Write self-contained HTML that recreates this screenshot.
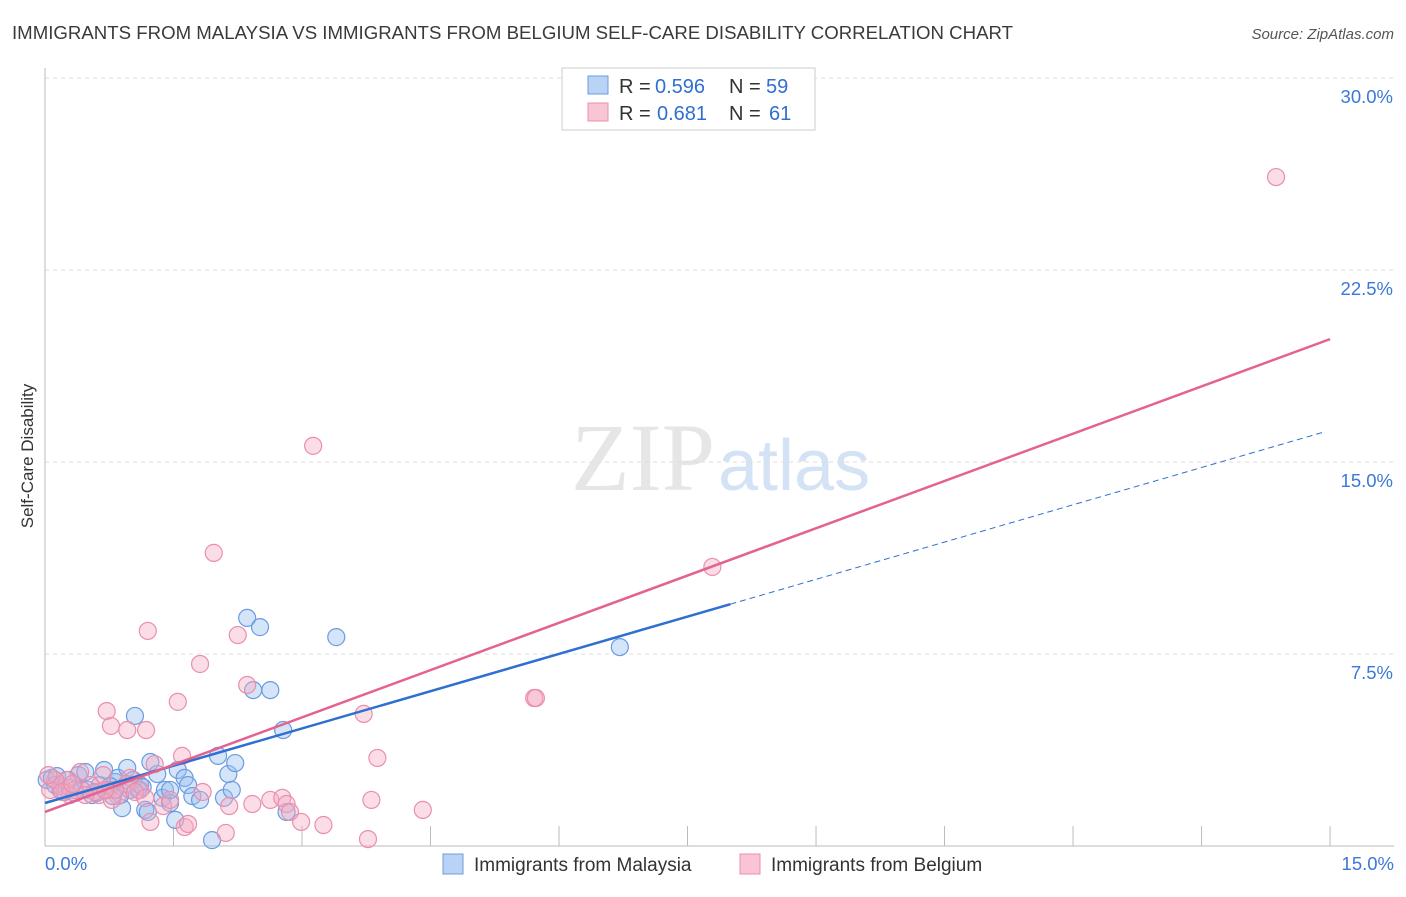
<!DOCTYPE html>
<html><head><meta charset="utf-8"><style>
body{margin:0;background:#fff;font-family:"Liberation Sans",sans-serif;}
</style></head><body>
<svg id="c" width="1406" height="892" xmlns="http://www.w3.org/2000/svg" style="font-family:'Liberation Sans',sans-serif">
<text x="12" y="39" font-size="18" fill="#3a3a3a" textLength="1001" lengthAdjust="spacingAndGlyphs">IMMIGRANTS FROM MALAYSIA VS IMMIGRANTS FROM BELGIUM SELF-CARE DISABILITY CORRELATION CHART</text>
<text x="1394" y="39" font-size="15" fill="#555" text-anchor="end" font-style="italic">Source: ZipAtlas.com</text>
<text x="715" y="490" font-size="96" fill="#e6e6e6" text-anchor="end" font-family="Liberation Serif">ZIP</text>
<text x="718" y="490" font-size="72" fill="#d4e2f5">atlas</text>
<text transform="translate(33,456) rotate(-90)" font-size="17" fill="#333" text-anchor="middle">Self-Care Disability</text>
<g id="grid"></g><g id="pts"></g><g id="lines"></g>
<g>
<rect x="562" y="68" width="253" height="62" fill="#fff" stroke="#ccc"/>
<rect x="588" y="76" width="20" height="18" fill="#b9d3f5" stroke="#6b9be0"/>
<rect x="588" y="103" width="20" height="18" fill="#f9c4d4" stroke="#ea8fab"/>
<text x="619" y="93" font-size="20" fill="#333">R =</text>
<text x="655" y="93" font-size="20" fill="#2f6fd0">0.596</text>
<text x="729" y="93" font-size="20" fill="#333">N =</text>
<text x="766" y="93" font-size="20" fill="#2f6fd0">59</text>
<text x="619" y="120" font-size="20" fill="#333">R =</text>
<text x="657" y="120" font-size="20" fill="#2f6fd0">0.681</text>
<text x="729" y="120" font-size="20" fill="#333">N =</text>
<text x="769" y="120" font-size="20" fill="#2f6fd0">61</text>
</g>
<g>
<rect x="443" y="854" width="20" height="20" fill="#b9d3f5" stroke="#6b9be0"/>
<text x="474" y="871" font-size="19" fill="#333">Immigrants from Malaysia</text>
<rect x="740" y="854" width="20" height="20" fill="#f9c4d4" stroke="#ea8fab"/>
<text x="771" y="871" font-size="19" fill="#333">Immigrants from Belgium</text>
</g>
</svg>
<script>
const blueX=[.02,.08,.12,.18,.23,.29,.39,.47,.50,.55,.64,.69,.74,.82,.85,.90,.96,.99,1.05,1.11,1.17,1.20,1.23,1.31,1.37,1.40,1.46,1.52,1.55,1.63,1.67,1.72,1.95,2.02,2.09,2.14,2.18,2.22,2.36,2.43,2.51,2.63,2.78,2.82,3.40,6.71,.14,.35,.60,.76,1.03,1.09,1.46,.88,.27,.43,.79,1.81,1.14];
const blueY=[2.58,2.66,2.38,2.19,2.11,2.27,2.77,2.89,2.19,1.99,2.38,2.97,2.19,2.50,2.66,1.48,3.05,2.19,5.08,2.38,1.41,1.33,3.28,2.81,1.88,2.19,1.68,1.02,2.97,2.66,2.38,1.95,0.23,3.52,1.88,2.81,2.19,3.24,8.91,6.09,8.55,6.09,4.53,1.33,8.16,7.77,2.73,2.07,2.07,2.34,2.58,2.19,2.19,1.99,2.58,2.19,1.95,1.80,2.30];
const pinkX=[14.37,3.13,1.97,7.79,1.20,2.25,1.81,2.36,5.71,5.73,1.55,.72,3.72,.77,.96,1.18,1.60,3.88,1.28,.41,.68,.99,1.11,.85,.53,.18,.29,.06,.25,.63,.78,.95,1.38,1.46,1.84,2.15,2.42,2.63,2.77,2.82,2.86,3.81,4.41,2.99,3.25,1.23,1.63,1.67,2.11,3.77,.12,.35,.58,.47,1.05,1.17,.20,.32,.82,.04,.70];
const pinkY=[26.13,15.63,11.45,10.90,8.40,8.24,7.11,6.29,5.78,5.78,5.63,5.27,5.16,4.69,4.53,4.53,3.52,3.44,3.20,2.89,2.77,2.66,2.19,1.95,2.38,2.34,1.99,2.19,2.58,1.99,1.80,2.42,1.56,1.80,2.11,1.56,1.64,1.80,1.88,1.64,1.33,1.80,1.41,0.94,0.82,0.94,0.74,0.86,0.51,0.27,2.58,2.19,2.11,1.99,2.11,1.88,2.11,2.42,2.19,2.77,2.19];
const yTicks=[7.5,15,22.5,30];
const yTickLabels=["7.5%","15.0%","22.5%","30.0%"];
const xTicks=[1.5,3,4.5,6,7.5,9,10.5,12,13.5,15];
const blueLine=[1.68,16.24], blueSolidEnd=8;
const pinkLine=[1.33,19.8];
const sx=v=>45+v*85.67, sy=v=>846-v*25.6;
const NS="http://www.w3.org/2000/svg";
function mk(p,t,a){const e=document.createElementNS(NS,t);for(const k in a)e.setAttribute(k,a[k]);p.appendChild(e);return e;}
const g=document.getElementById('grid');
yTicks.forEach((t,i)=>{
 const l=mk(g,'line',{x1:45,x2:1394,y1:sy(t),y2:sy(t),stroke:'#ddd','stroke-dasharray':'4,4'});
 
 
 const tx=mk(g,'text',{x:1393,y:sy(t)+25,'font-size':18.5,fill:'#3b78d8','text-anchor':'end'});
 tx.textContent=yTickLabels[i];
 
 
});
const ax=mk(g,'line',{x1:45,x2:45,y1:68,y2:846,stroke:'#bbb'});


const bx=mk(g,'line',{x1:45,x2:1394,y1:846,y2:846,stroke:'#bbb'});


xTicks.forEach(t=>{
 const l=mk(g,'line',{x1:sx(t),x2:sx(t),y1:846,y2:826,stroke:'#bbb'});
 
 
});
const x0=mk(g,'text',{x:45,y:870,'font-size':18.5,fill:'#3b78d8'});x0.textContent='0.0%';


const x1=mk(g,'text',{x:1394,y:870,'font-size':18.5,fill:'#3b78d8','text-anchor':'end'});x1.textContent='15.0%';


const P=document.getElementById('pts');
blueX.forEach((x,i)=>{
 const c=mk(P,'circle',{cx:sx(x),cy:sy(blueY[i]),r:8.5,fill:'rgba(150,190,240,0.4)',stroke:'#6b9be0','stroke-width':1.2});
 
 
});
pinkX.forEach((x,i)=>{
 const c=mk(P,'circle',{cx:sx(x),cy:sy(pinkY[i]),r:8.5,fill:'rgba(245,170,195,0.4)',stroke:'#ea8fab','stroke-width':1.2});
 
 
});
const L=document.getElementById('lines');
const by=x=>blueLine[0]+(blueLine[1]-blueLine[0])*x/15;
const b1=mk(L,'line',{x1:sx(0),y1:sy(by(0)),x2:sx(blueSolidEnd),y2:sy(by(blueSolidEnd)),stroke:'#2f6fd0','stroke-width':2.5});


const b2=mk(L,'line',{x1:sx(blueSolidEnd),y1:sy(by(blueSolidEnd)),x2:sx(14.95),y2:sy(by(14.95)),stroke:'#2f6fd0','stroke-width':1,'stroke-dasharray':'6,4'});


const p1=mk(L,'line',{x1:sx(0),y1:sy(pinkLine[0]),x2:sx(15),y2:sy(pinkLine[1]),stroke:'#e4628f','stroke-width':2.5});


</script>
</body></html>
